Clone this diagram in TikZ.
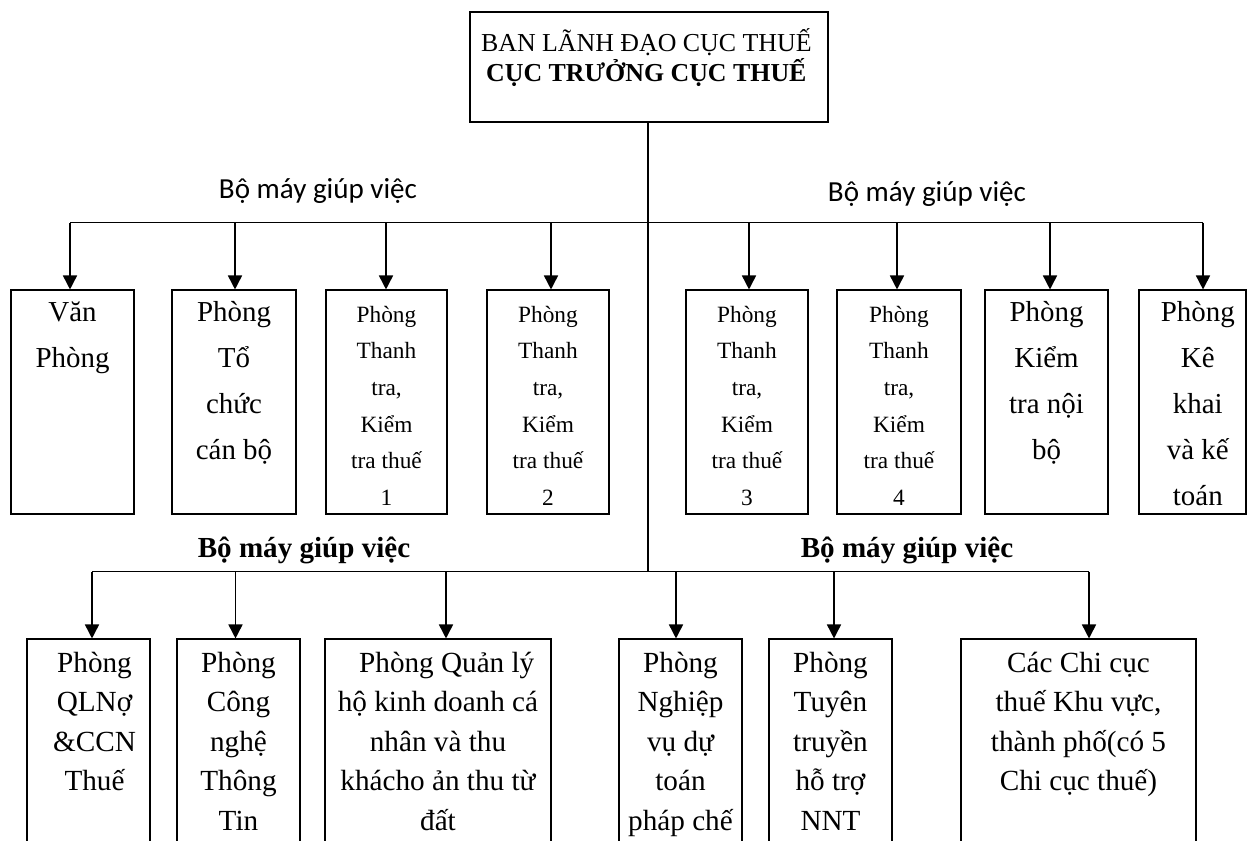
\documentclass[tikz,border=0pt]{standalone}
\usepackage{fontspec}
\setmainfont{Liberation Serif}
\newfontfamily\calib{Carlito}
\usetikzlibrary{arrows.meta}
\tikzset{
  boxst/.style={draw, line width=0.8pt, inner sep=0pt, rectangle},
  topst/.style={draw, line width=1pt, inner sep=0pt, rectangle},
  arr/.style={line width=1.2pt, -{Triangle[width=10.5pt,length=10.5pt]}},
  hl/.style={line width=1pt},
  vl/.style={line width=0.8pt},
  tTop/.style={font=\fontsize{19.4}{22.5}\selectfont, align=flush center, inner sep=0pt, anchor=base, text width=260pt},
  tL/.style={font=\fontsize{21.7}{34.5}\selectfont, align=flush center, inner sep=0pt, anchor=base},
  tS/.style={font=\fontsize{17.5}{27.5}\selectfont, align=flush center, inner sep=0pt, anchor=base},
  tR/.style={font=\fontsize{21.9}{29.6}\selectfont, align=flush center, inner sep=0pt, anchor=base},
  lab/.style={font=\calib\fontsize{21.8}{26}\selectfont, inner sep=0pt, anchor=base},
  labB/.style={font=\bfseries\fontsize{21.8}{26}\selectfont, inner sep=0pt, anchor=base},
}
\newcommand{\mkbox}[6]{\node[#6, minimum width={(#3-#2)*0.75pt}, minimum height={(#5-#4)*0.75pt}] (#1) at ({(#2+#3)/2},{(#4+#5)/2}) {};}
\begin{document}
\begin{tikzpicture}[x=0.75pt,y=-0.75pt]
\useasboundingbox (0,0) rectangle (1255,841);
\clip (0,0) rectangle (1255,841);
% top
\mkbox{top}{470}{828}{12}{122}{topst}
\node[tTop] (topT) at ([yshift=-30.5pt,xshift=-2pt]top.north) {BAN LÃNH ĐẠO CỤC THUẾ\\\textbf{CỤC TRƯỞNG CỤC THUẾ}};
% row 1 boxes
\mkbox{vp}{11}{134}{290}{514}{boxst}
\mkbox{tc}{172}{296}{290}{514}{boxst}
\mkbox{ta}{326}{447}{290}{514}{boxst}
\mkbox{tb}{487}{609}{290}{514}{boxst}
\mkbox{td}{686}{808}{290}{514}{boxst}
\mkbox{te}{837}{961}{290}{514}{boxst}
\mkbox{kn}{985}{1108}{290}{514}{boxst}
\mkbox{kk}{1139}{1246}{290}{514}{boxst}
\node[tL, text width=90pt] (vpT) at ([yshift=-24pt]vp.north) {Văn\\Phòng};
\node[tL, text width=90pt] (tcT) at ([yshift=-24pt]tc.north) {Phòng\\Tổ\\chức\\cán bộ};
\node[tS, text width=88pt] (taT) at ([yshift=-24.5pt]ta.north) {Phòng\\Thanh\\tra,\\Kiểm\\tra thuế\\1};
\node[tS, text width=88pt] (tbT) at ([yshift=-24.5pt]tb.north) {Phòng\\Thanh\\tra,\\Kiểm\\tra thuế\\2};
\node[tS, text width=88pt] (tdT) at ([yshift=-24.5pt]td.north) {Phòng\\Thanh\\tra,\\Kiểm\\tra thuế\\3};
\node[tS, text width=88pt] (teT) at ([yshift=-24.5pt]te.north) {Phòng\\Thanh\\tra,\\Kiểm\\tra thuế\\4};
\node[tL, text width=90pt] (knT) at ([yshift=-24pt]kn.north) {Phòng\\Kiểm\\tra nội\\bộ};
\node[tL, text width=78pt] (kkT) at ([yshift=-24pt,xshift=4pt]kk.north) {Phòng\\Kê\\khai\\và kế\\toán};
% row 2 boxes
\mkbox{qa}{27}{150}{639}{860}{boxst}
\mkbox{qb}{177}{300}{639}{860}{boxst}
\mkbox{qc}{325}{551}{639}{860}{boxst}
\mkbox{qd}{619}{742}{639}{860}{boxst}
\mkbox{qe}{769}{892}{639}{860}{boxst}
\mkbox{qf}{961}{1196}{639}{860}{boxst}
\node[tR, text width=88pt] (qaT) at ([yshift=-25.5pt,xshift=4.5pt]qa.north) {Phòng\\QLNợ\\\&CCN\\Thuế};
\node[tR, text width=90pt] (qbT) at ([yshift=-25.5pt]qb.north) {Phòng\\Công\\nghệ\\Thông\\Tin};
\node[tR, text width=165pt] (qcT) at ([yshift=-25.5pt]qc.north) {\hspace*{0.6em}Phòng Quản lý\\hộ kinh doanh cá\\nhân và thu\\khácho ản thu từ\\đất};
\node[tR, text width=90pt] (qdT) at ([yshift=-25.5pt]qd.north) {Phòng\\Nghiệp\\vụ dự\\toán\\pháp chế};
\node[tR, text width=90pt] (qeT) at ([yshift=-25.5pt]qe.north) {Phòng\\Tuyên\\truyền\\hỗ trợ\\NNT};
\node[tR, text width=170pt] (qfT) at ([yshift=-25.5pt]qf.north) {Các Chi cục\\thuế Khu vực,\\thành phố(có 5\\Chi cục thuế)};
% labels
\node[lab] (l1) at (318,199) {Bộ máy giúp việc};
\node[lab] (l2) at (927,202) {Bộ máy giúp việc};
\node[labB] (l3) at (304,557) {Bộ máy giúp việc};
\node[labB] (l4) at (907,557) {Bộ máy giúp việc};
% coordinates
\coordinate (j2) at (648,571.7);
\coordinate (a1) at (70,222.7);
\coordinate (a2) at (235,222.7);
\coordinate (a3) at (386,222.7);
\coordinate (a4) at (551,222.7);
\coordinate (a5) at (749,222.7);
\coordinate (a6) at (897,222.7);
\coordinate (a7) at (1050,222.7);
\coordinate (a8) at (1203,222.7);
\coordinate (b1) at (92,571.7);
\coordinate (b2) at (235.5,571.7);
\coordinate (b3) at (446,571.7);
\coordinate (b4) at (676,571.7);
\coordinate (b5) at (834,571.7);
\coordinate (b6) at (1089,571.7);
% connectors
\draw[vl] (top.south -| j2) -- (j2);
\draw[hl] (a1) -- (a8);
\draw[hl] (b1) -- (b6);
\draw[arr] (a1) -- (a1 |- vp.north);
\draw[arr] (a2) -- (a2 |- tc.north);
\draw[arr] (a3) -- (a3 |- ta.north);
\draw[arr] (a4) -- (a4 |- tb.north);
\draw[arr] (a5) -- (a5 |- td.north);
\draw[arr] (a6) -- (a6 |- te.north);
\draw[arr] (a7) -- (a7 |- kn.north);
\draw[arr] (a8) -- (a8 |- kk.north);
\draw[arr] (b1) -- (b1 |- qa.north);
\draw[arr] (b2) -- (b2 |- qb.north);
\draw[arr] (b3) -- (b3 |- qc.north);
\draw[arr] (b4) -- (b4 |- qd.north);
\draw[arr] (b5) -- (b5 |- qe.north);
\draw[arr] (b6) -- (b6 |- qf.north);
\end{tikzpicture}
\end{document}
